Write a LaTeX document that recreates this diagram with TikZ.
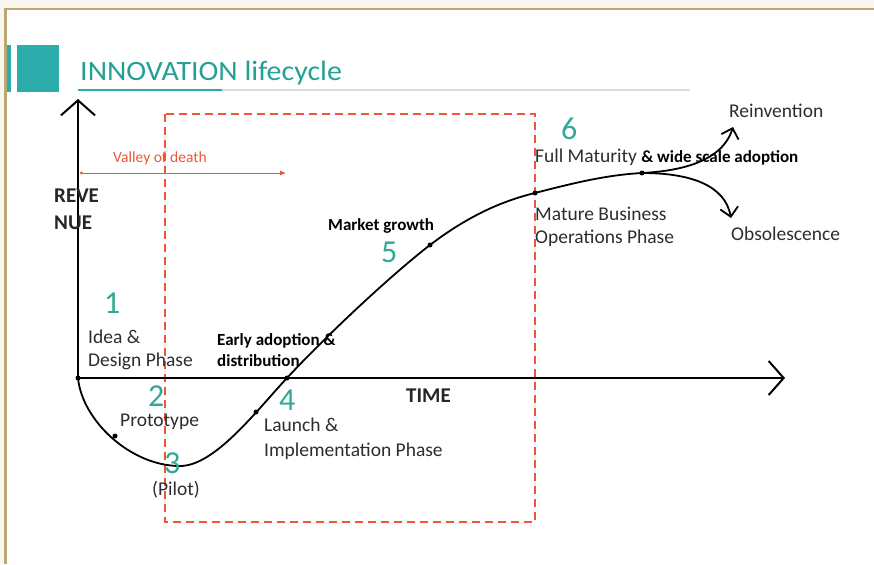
\documentclass[tikz,border=0pt]{standalone}
\usepackage{fontspec}
\usepackage{graphicx}
\setmainfont{Carlito}
\usetikzlibrary{arrows.meta}
\definecolor{tealbox}{RGB}{45,172,172}
\definecolor{tealtxt}{RGB}{38,160,150}
\definecolor{numcol}{RGB}{50,168,150}
\definecolor{redd}{RGB}{240,85,55}
\definecolor{tanline}{RGB}{190,166,112}
\definecolor{beige}{RGB}{248,246,238}
\definecolor{greyline}{RGB}{215,220,220}
\definecolor{txt}{RGB}{45,45,45}
\begin{document}
\begin{tikzpicture}[x=1pt,y=-1pt,
 lab/.style={font=\fontsize{19.5}{22}\selectfont, inner sep=0pt, anchor=base west, text=txt},
 blab/.style={font=\fontsize{17}{20}\selectfont\bfseries, inner sep=0pt, anchor=base west, text=black},
 axlab/.style={font=\fontsize{21}{24}\selectfont\bfseries, inner sep=0pt, anchor=base west, text=black!85},
 num/.style={font=\fontsize{32}{34}\selectfont, text=numcol, inner sep=0pt, anchor=base west},
 dotc/.style={circle, fill=black, inner sep=0pt, minimum size=5pt},
 axisline/.style={line width=2.2pt, -{Straight Barb[length=15pt,width=34pt,line width=2pt]}},
 curveline/.style={line width=1.8pt},
 branch/.style={line width=1.8pt, -{Straight Barb[length=9pt,width=18pt,line width=1.8pt]}},
]
% background and frame
\fill[white] (0,0) rectangle (874,564);
\fill[beige] (0,0) rectangle (874,8);
\fill[beige] (0,0) rectangle (4,564);
\fill[tanline] (4,8) rectangle (874,10.5);
\fill[tanline] (4,8) rectangle (6.5,564);
\useasboundingbox (0,0) rectangle (874,564);

% title block
\fill[tealbox] (7,45) rectangle (11,92);
\fill[tealbox] (17,45) rectangle (59,92);
\node[font=\fontsize{28}{30}\selectfont, text=tealtxt, anchor=base west, inner sep=0pt] (title) at (80,81) {\scalebox{1.07}[1]{INNOVATION lifecycle}};
\draw[greyline, line width=1.5pt] (222,90) -- (690,90);
\draw[tealbox, line width=2.2pt] (78,90) -- (222,90);

% red dashed frame
\draw[redd, line width=2pt, dash pattern=on 8pt off 5pt] (165,114) rectangle (535,522);

% valley of death
\coordinate (v1) at (80,173);
\coordinate (v2) at (286,173);
\draw[redd, line width=0.9pt, {Circle[length=3pt]}-{Latex[length=6pt,width=5pt]}] (v1) -- (v2);
\node[font=\fontsize{15.5}{18}\selectfont, text=redd, anchor=base west, inner sep=0pt] (valley) at (113,162) {Valley of death};

% axes
\coordinate (O) at (78,378);
\coordinate (ytip) at (78,99);
\coordinate (xtip) at (785,378);
\draw[axisline] (O) -- (ytip);
\draw[axisline] (O) -- (xtip);

% curve
\coordinate (d1) at (115,436);
\coordinate (m) at (180,466);
\coordinate (d2) at (256,412);
\coordinate (d3) at (287,378);
\coordinate (d4) at (430,245);
\coordinate (d5) at (535,193);
\coordinate (d6) at (642,173);
\coordinate (reinv) at (733,127);
\coordinate (obs) at (731,218);
\draw[curveline] (O) .. controls (82,420) and (130,466) .. (m)
  .. controls (215,466) and (257,410) .. (d3)
  .. controls (327,335) and (390,276) .. (d4)
  .. controls (468,216) and (502,201) .. (d5)
  .. controls (570,184) and (605,175) .. (d6);
\draw[branch] (d6) .. controls (680,171) and (722,162) .. (reinv);
\draw[branch] (d6) .. controls (690,173) and (725,185) .. (obs);
\foreach \p in {O,d1,d2,d3,d4,d5,d6} \node[dotc] at (\p) {};

% labels
\node[axlab] (rev1) at (54,202) {REVE};
\node[axlab] (rev2) at (54,229) {NUE};
\node[axlab] (time) at (406,402) {TIME};

\node[num] (n1) at (104,313) {1};
\node[lab] (idea1) at (88,343) {Idea \&};
\node[lab] (idea2) at (88,366) {Design Phase};

\node[num] (n2) at (148,406) {2};
\node[lab] (proto) at (120,426) {Prototype};

\node[num] (n3) at (164,473) {3};
\node[lab] (pilot) at (152,495) {(Pilot)};

\node[blab] (early1) at (217,345) {Early adoption \&};
\node[blab] (early2) at (217,366) {distribution};

\node[num] (n4) at (279,410) {4};
\node[lab] (launch1) at (264,431) {Launch \&};
\node[lab] (launch2) at (264,456) {Implementation Phase};

\node[blab] (market) at (328,230) {Market growth};
\node[num] (n5) at (381,262) {5};

\node[num] (n6) at (561,140) {6};
\node[lab] (full) at (535,162) {Full Maturity {\fontsize{17}{20}\selectfont\bfseries\color{black} \& wide scale adoption}};
\node[lab] (mature1) at (535,220) {Mature Business};
\node[lab] (mature2) at (535,243) {Operations Phase};

\node[lab] (reinvtxt) at (729,118) {Reinvention};
\node[lab] (obstxt) at (731,240) {Obsolescence};
\end{tikzpicture}
\end{document}
